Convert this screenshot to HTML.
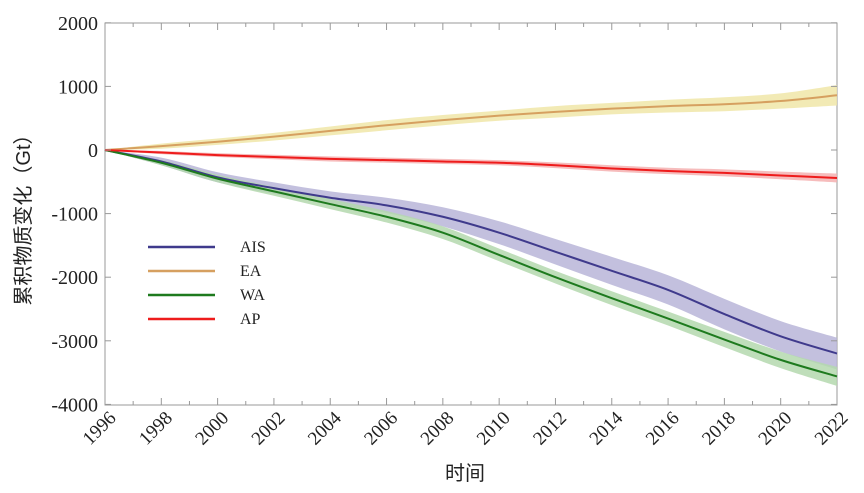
<!DOCTYPE html><html><head><meta charset="utf-8"><style>body{margin:0;background:#fff}svg{display:block}text{font-family:"Liberation Serif","Noto Serif CJK SC",serif;fill:#222}</style></head><body>
<svg id="s" width="864" height="493" xmlns="http://www.w3.org/2000/svg">
<rect x="105" y="23" width="732" height="382" fill="none" stroke="#999" stroke-width="1"/>
<g id="g"></g>
<text x="30" y="215" transform="rotate(-90 30 215)" text-anchor="middle" font-size="20" style="font-family:'Liberation Sans','Noto Sans CJK SC',sans-serif">累积物质变化（Gt）</text>
<text x="465" y="480" text-anchor="middle" font-size="20" style="font-family:'Liberation Sans','Noto Sans CJK SC',sans-serif">时间</text>
<g stroke-width="2.5"><line x1="148" y1="247" x2="215" y2="247" stroke="#3f3a8c"/><line x1="148" y1="271" x2="215" y2="271" stroke="#d6a060"/><line x1="148" y1="295" x2="215" y2="295" stroke="#1e7a1e"/><line x1="148" y1="319" x2="215" y2="319" stroke="#ee1c1c"/></g>
<g font-size="16"><text x="240" y="252">AIS</text><text x="240" y="276">EA</text><text x="240" y="300">WA</text><text x="240" y="324">AP</text></g>
</svg>
<script>
var X=y=>105+(y-1996)*732/26,Y=v=>150-v*0.0636;
var g=document.getElementById('g'),h='';
for(var v=-4000;v<=2000;v+=1000){h+='<text x="98" y="'+(Y(v)+7)+'" text-anchor="end" font-size="20">'+v+'</text><line x1="105" x2="111" y1="'+Y(v)+'" y2="'+Y(v)+'" stroke="#999"/><line x1="831" x2="837" y1="'+Y(v)+'" y2="'+Y(v)+'" stroke="#999"/>';}
for(var yr=1996;yr<=2022;yr++){var l=yr%2?4:7;h+='<line x1="'+X(yr)+'" x2="'+X(yr)+'" y1="405" y2="'+(405-l)+'" stroke="#999"/><line x1="'+X(yr)+'" x2="'+X(yr)+'" y1="23" y2="'+(23+l)+'" stroke="#999"/>';if(yr%2==0)h+='<text font-size="19" transform="translate('+(X(yr)+12)+',419) rotate(-45)" text-anchor="end">'+yr+'</text>';}
var yrs=[1996,1998,2000,2002,2004,2006,2008,2010,2012,2014,2016,2018,2020,2022];
var S=[
{c:'#3f3a8c',f:'#b8b5d8',d:[0,-180,-430,-600,-750,-870,-1050,-1300,-1600,-1900,-2200,-2580,-2930,-3200],e:[0,60,80,90,100,120,150,180,200,220,230,240,240,250]},
{c:'#1e7a1e',f:'#b4d8ae',d:[0,-200,-450,-650,-850,-1050,-1300,-1650,-2000,-2330,-2650,-2980,-3300,-3560],e:[0,40,60,70,80,90,100,100,100,110,110,120,130,150]},
{c:'#d6a060',f:'#f0e6a8',d:[0,60,130,210,300,390,470,540,600,650,690,720,770,860],e:[0,40,50,60,70,80,80,80,90,90,100,110,120,160]},
{c:'#ee1c1c',f:'#f5b0b0',d:[0,-40,-80,-110,-140,-160,-180,-200,-240,-290,-330,-360,-400,-440],e:[0,25,30,35,40,40,40,40,45,50,50,55,60,70]}];
function p(a){return a.map((v,i)=>[X(yrs[i]),Y(v)]);}
function sm(pts){var d='M'+pts[0];for(var i=1;i<pts.length;i++){var p0=pts[i-2]||pts[i-1],p1=pts[i-1],p2=pts[i],p3=pts[i+1]||p2;d+='C'+(p1[0]+(p2[0]-p0[0])/6)+','+(p1[1]+(p2[1]-p0[1])/6)+' '+(p2[0]-(p3[0]-p1[0])/6)+','+(p2[1]-(p3[1]-p1[1])/6)+' '+p2;}return d;}
var bands='',lines='';
S.forEach(s=>{var up=p(s.d.map((v,i)=>v+s.e[i])),lo=p(s.d.map((v,i)=>v-s.e[i])).reverse();
bands+='<path d="'+sm(up)+'L'+lo[0]+sm(lo).slice(1+String(lo[0]).length)+'Z" fill="'+s.f+'" opacity="0.85"/>';
lines+='<path d="'+sm(p(s.d))+'" fill="none" stroke="'+s.c+'" stroke-width="2"/>';});
g.innerHTML=bands+lines+h;
</script></body></html>
